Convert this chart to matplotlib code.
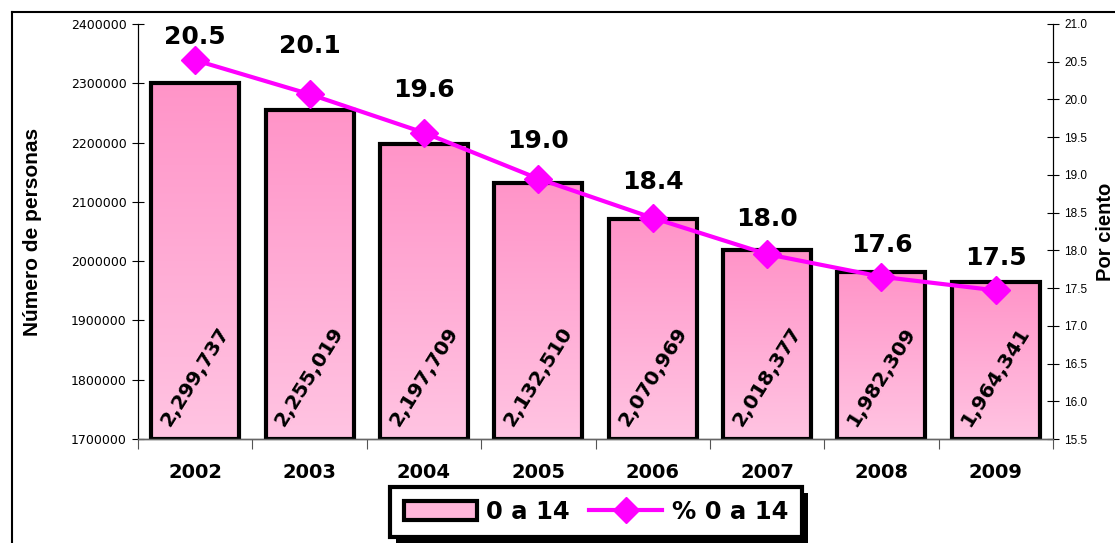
import numpy as np
import matplotlib
matplotlib.use("Agg")
import matplotlib.pyplot as plt
from matplotlib.patches import Rectangle
from matplotlib.lines import Line2D
from matplotlib.colors import LinearSegmentedColormap

years = ["2002", "2003", "2004", "2005", "2006", "2007", "2008", "2009"]
personas = [2299737, 2255019, 2197709, 2132510, 2070969, 2018377, 1982309, 1964341]
personas_labels = ["2,299,737", "2,255,019", "2,197,709", "2,132,510",
                   "2,070,969", "2,018,377", "1,982,309", "1,964,341"]
porcentaje = [20.52, 20.07, 19.56, 18.95, 18.43, 17.95, 17.65, 17.47]
porcentaje_labels = ["20.5", "20.1", "19.6", "19.0", "18.4", "18.0", "17.6", "17.5"]
left_ticks = [1700000, 1800000, 1900000, 2000000, 2100000, 2200000, 2300000, 2400000]
right_ticks = [15.5, 16.0, 16.5, 17.0, 17.5, 18.0, 18.5, 19.0, 19.5, 20.0, 20.5, 21.0]

# layout: vertical offset (points) of each percentage label above its marker
label_offsets = [17, 35, 31, 27, 26, 25, 23, 23]

W, H = 1115, 543
fig = plt.figure(figsize=(W / 100, H / 100), dpi=100)
fig.patch.set_facecolor("white")

AX_L, AX_R, AX_T, AX_B = 138, 1053, 24, 439
ax = fig.add_axes([AX_L / W, 1 - AX_B / H, (AX_R - AX_L) / W, (AX_B - AX_T) / H])
ax2 = ax.twinx()

x = np.arange(len(years))
ymin, ymax = left_ticks[0], left_ticks[-1]

cmap = LinearSegmentedColormap.from_list("pinkgrad", ["#FFC4E2", "#FF94C8"])
grad = np.linspace(0, 1, 256).reshape(-1, 1)
bars = ax.bar(x, np.array(personas) - ymin, bottom=ymin, width=0.77,
              facecolor="none", edgecolor="black", linewidth=3, zorder=3)
for b in bars:
    x0, y0 = b.get_x(), b.get_y()
    im = ax.imshow(grad, extent=(x0, x0 + b.get_width(), y0, y0 + b.get_height()),
                   origin="lower", cmap=cmap, aspect="auto", zorder=2)
    im.set_clip_path(b)
ax.set_xlim(-0.5, len(years) - 0.5)
ax.set_ylim(ymin, ymax)

for xi, lab in zip(x, personas_labels):
    ax.text(xi, 1805000, lab, rotation=58, rotation_mode="anchor",
            ha="center", va="center", fontsize=14.5, fontweight="bold",
            family="DejaVu Sans", zorder=4)

ax2.plot(x, porcentaje, color="#FF00FF", linewidth=3, marker="D",
         markersize=14, markeredgecolor="#FF00FF", zorder=5)
for xi, v, lab, off in zip(x, porcentaje, porcentaje_labels, label_offsets):
    ax2.annotate(lab, (xi, v), xytext=(0, off), textcoords="offset points",
                 ha="center", va="center", fontsize=18, fontweight="bold",
                 family="DejaVu Sans")
ax2.set_ylim(right_ticks[0], right_ticks[-1])
ax2.set_yticks(right_ticks)
ax2.set_yticklabels([f"{t:.1f}" for t in right_ticks], fontsize=8.5,
                    family="Liberation Sans")

ax.set_yticks(left_ticks)
ax.set_yticklabels([str(t) for t in left_ticks], fontsize=9, family="DejaVu Sans")
ax.set_xticks(x)
ax.set_xticklabels(years, fontsize=14, fontweight="bold", family="DejaVu Sans")
ax.set_xticks(np.arange(-0.5, len(years) + 0.5, 1), minor=True)
ax.tick_params(axis="x", which="major", length=0, pad=17)
ax.tick_params(axis="x", which="minor", length=7, direction="out", width=0.8,
               color="#555555")
ax.tick_params(axis="y", direction="inout", length=8, width=0.8, pad=4)
ax2.tick_params(axis="y", direction="inout", length=8, width=0.8, pad=4)

for a in (ax, ax2):
    a.spines["top"].set_visible(False)
    a.spines["left"].set_linewidth(0.8)
    a.spines["right"].set_linewidth(0.8)
    a.spines["bottom"].set_color("#666666")
    a.spines["bottom"].set_linewidth(1.0)
    a.patch.set_visible(False)

aw = AX_R - AX_L
ax.set_ylabel("Número de personas", fontsize=15, fontweight="bold",
              family="Liberation Sans")
ax.yaxis.set_label_coords((42 - AX_L) / aw, 0.5)
ax2.set_ylabel("Por ciento", fontsize=14.5, fontweight="bold",
               family="Liberation Sans", rotation=90)
ax2.yaxis.set_label_coords((1096 - AX_L) / aw, 0.5)

# figure border (partial frame)
fig.add_artist(Line2D([12 / W, 1.0], [1 - 12 / H, 1 - 12 / H],
                      transform=fig.transFigure, color="black", linewidth=1.5))
fig.add_artist(Line2D([12 / W, 12 / W], [0.0, 1 - 12 / H],
                      transform=fig.transFigure, color="black", linewidth=1.5))

handles = [Rectangle((0, 0), 1, 1, facecolor="#FFB6DA", edgecolor="black", linewidth=3),
           Line2D([], [], color="#FF00FF", linewidth=3, marker="D", markersize=13)]
leg = fig.legend(handles, ["0 a 14", "% 0 a 14"], loc="center",
                 bbox_to_anchor=(596 / W, 1 - 512 / H), ncol=2, frameon=True,
                 fancybox=False, framealpha=1.0, facecolor="white",
                 prop={"family": "DejaVu Sans", "weight": "bold", "size": 17.5},
                 handlelength=3.0, handletextpad=0.4, columnspacing=0.8,
                 borderpad=0.55, handleheight=0.8)
leg.get_frame().set_edgecolor("black")
leg.get_frame().set_linewidth(3)
leg.set_zorder(10)

fig.canvas.draw()
bb = leg.get_window_extent()
shadow = Rectangle((bb.x0 + 6, bb.y0 - 6), bb.width, bb.height, transform=None,
                   facecolor="black", edgecolor="none", zorder=9)
fig.add_artist(shadow)

fig.savefig("out.png", dpi=100)
